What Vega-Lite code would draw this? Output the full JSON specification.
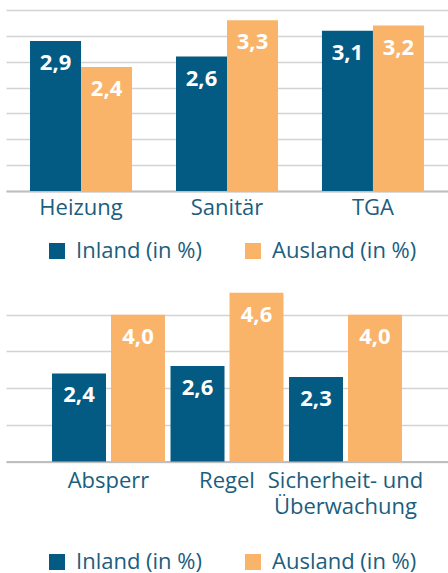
{
  "$schema": "https://vega.github.io/schema/vega-lite/v6.json",
  "padding": {"left": 6, "top": 10, "right": 0, "bottom": 12},
  "background": "white",
  "spacing": 16,
  "config": {
    "view": {"stroke": null},
    "font": "Open Sans",
    "locale": {"number": {"decimal": ",", "thousands": ".", "grouping": [3], "currency": ["", " €"]}},
    "axisX": {"title": null, "ticks": false, "domainColor": "#bfbfbf", "domainWidth": 2, "labelFontSize": 22, "labelColor": "#1b5e7e", "labelAngle": 0, "labelFont": "Open Sans"},
    "axisY": {"title": null, "labels": false, "ticks": false, "domain": false, "gridColor": "#d3d3d3", "gridWidth": 1.5},
    "legend": {"orient": "none", "direction": "horizontal", "title": null, "symbolType": "square", "symbolSize": 256, "symbolStrokeWidth": 0, "labelFontSize": 22, "labelColor": "#1b5e7e", "labelOffset": 8, "columnPadding": 39, "padding": 0, "labelFont": "Open Sans"}
  },
  "datasets": {
    "top": [
      {"category": "Heizung", "series": "Inland (in %)", "value": 2.9},
      {"category": "Heizung", "series": "Ausland (in %)", "value": 2.4},
      {"category": "Sanitär", "series": "Inland (in %)", "value": 2.6},
      {"category": "Sanitär", "series": "Ausland (in %)", "value": 3.3},
      {"category": "TGA", "series": "Inland (in %)", "value": 3.1},
      {"category": "TGA", "series": "Ausland (in %)", "value": 3.2}
    ],
    "bottom": [
      {"category": "Absperr", "series": "Inland (in %)", "value": 2.4},
      {"category": "Absperr", "series": "Ausland (in %)", "value": 4.0},
      {"category": "Regel", "series": "Inland (in %)", "value": 2.6},
      {"category": "Regel", "series": "Ausland (in %)", "value": 4.6},
      {"category": "Sicherheit- und Überwachung", "series": "Inland (in %)", "value": 2.3},
      {"category": "Sicherheit- und Überwachung", "series": "Ausland (in %)", "value": 4.0}
    ]
  },
  "resolve": {"scale": {"color": "independent", "xOffset": "independent", "x": "independent", "y": "independent"}, "legend": {"color": "independent"}},
  "vconcat": [
    {
      "width": 442,
      "height": 181,
      "data": {"name": "top"},
      "encoding": {
        "x": {"field": "category", "type": "nominal", "sort": ["Heizung", "Sanitär", "TGA"], "scale": {"paddingInner": 0, "paddingOuter": 0.014}, "axis": {"labelPadding": 6}},
        "xOffset": {"field": "series", "type": "nominal", "sort": ["Inland (in %)", "Ausland (in %)"], "scale": {"paddingInner": 0, "paddingOuter": 0.431}},
        "y": {"field": "value", "type": "quantitative", "scale": {"domain": [0, 3.5]}, "axis": {"values": [0, 0.5, 1, 1.5, 2, 2.5, 3, 3.5]}}
      },
      "layer": [
        {
          "mark": {"type": "bar"},
          "encoding": {
            "color": {"field": "series", "type": "nominal", "scale": {"domain": ["Inland (in %)", "Ausland (in %)"], "range": ["#035a82", "#f9b46a"]}, "legend": {"legendX": 40, "legendY": 230}}
          }
        },
        {
          "mark": {"type": "text", "baseline": "top", "dy": 12, "color": "white", "fontWeight": "bold", "fontSize": 22, "font": "Open Sans"},
          "encoding": {"text": {"field": "value", "type": "quantitative", "format": ".1f"}}
        }
      ]
    },
    {
      "width": 442,
      "height": 183.5,
      "data": {"name": "bottom"},
      "encoding": {
        "x": {"field": "category", "type": "nominal", "sort": ["Absperr", "Regel", "Sicherheit- und Überwachung"], "scale": {"paddingInner": 0, "paddingOuter": 0.365}, "axis": {"labelPadding": 9, "labelLineHeight": 26, "labelExpr": "datum.label == 'Sicherheit- und Überwachung' ? ['Sicherheit- und', 'Überwachung'] : datum.label"}},
        "xOffset": {"field": "series", "type": "nominal", "sort": ["Inland (in %)", "Ausland (in %)"], "scale": {"paddingInner": 0.085, "paddingOuter": 0.047}},
        "y": {"field": "value", "type": "quantitative", "scale": {"domain": [0, 5]}, "axis": {"values": [0, 1, 2, 3, 4]}}
      },
      "layer": [
        {
          "mark": {"type": "bar"},
          "encoding": {
            "color": {"field": "series", "type": "nominal", "scale": {"domain": ["Inland (in %)", "Ausland (in %)"], "range": ["#035a82", "#f9b46a"]}, "legend": {"legendX": 40, "legendY": 273}}
          }
        },
        {
          "mark": {"type": "text", "baseline": "top", "dy": 12, "color": "white", "fontWeight": "bold", "fontSize": 22, "font": "Open Sans"},
          "encoding": {"text": {"field": "value", "type": "quantitative", "format": ".1f"}}
        }
      ]
    }
  ]
}
